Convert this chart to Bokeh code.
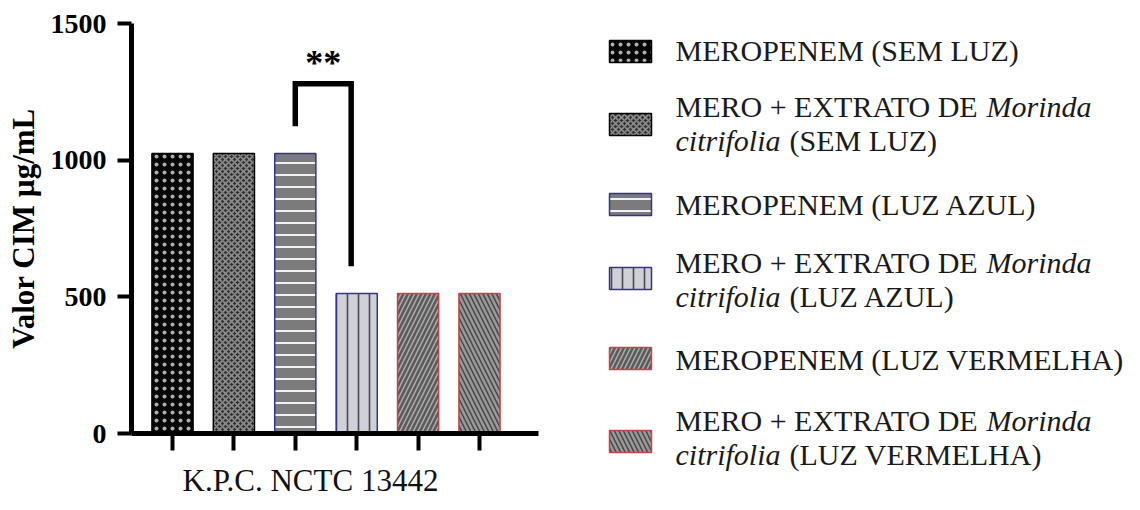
from bokeh.plotting import figure
from bokeh.models import Range1d, FixedTicker, ColumnDataSource
from bokeh.core.properties import value
from bokeh.embed import file_html
from bokeh.resources import INLINE

# ---------------- data ----------------
groups = [
    "MEROPENEM (SEM LUZ)",
    "MERO + EXTRATO DE Morinda citrifolia (SEM LUZ)",
    "MEROPENEM (LUZ AZUL)",
    "MERO + EXTRATO DE Morinda citrifolia (LUZ AZUL)",
    "MEROPENEM (LUZ VERMELHA)",
    "MERO + EXTRATO DE Morinda citrifolia (LUZ VERMELHA)",
]
positions = [1, 2, 3, 4, 5, 6]
mic_values = [1024, 1024, 1024, 512, 512, 512]
y_ticks = [0, 500, 1000, 1500]
y_max = 1500
x_title = "K.P.C. NCTC 13442"
y_title = "Valor CIM µg/mL"
sig_label = "**"
sig_pair = [3, 4]

# legend text split into upright / italic parts per line
legend_lines = [
    [["MEROPENEM (SEM LUZ)"]],
    [["MERO + EXTRATO DE", "Morinda"], ["citrifolia", "(SEM LUZ)"]],
    [["MEROPENEM (LUZ AZUL)"]],
    [["MERO + EXTRATO DE", "Morinda"], ["citrifolia", "(LUZ AZUL)"]],
    [["MEROPENEM (LUZ VERMELHA)"]],
    [["MERO + EXTRATO DE", "Morinda"], ["citrifolia", "(LUZ VERMELHA)"]],
]

# ---------------- styles ----------------
fill_colors = ["#050505", "#333333", "#7b7b7b", "#d0d0d8", "#5a5a5a", "#9a9a9a"]
line_colors = ["#000000", "#000000", "#34348a", "#34348a", "#c8404c", "#c8404c"]
hatch_patterns = ["dot", "diagonal_cross", "horizontal_line", "vertical_line",
                  "right_diagonal_line", "left_diagonal_line"]
hatch_colors = ["#b0b0b0", "#8c8c8c", "#ffffff", "#4a4a4a", "#aaaaaa", "#4a4a4a"]
hatch_scales = [8, 6, 12, 11, 9, 9]
hatch_weights = [0.7, 1.6, 1.8, 1.6, 1.6, 1.6]

SERIF = "Liberation Serif"
W, H = 1140, 510

# pixel layout of the plotting area (page px)
AX_LEFT, AX_RIGHT, AX_TOP, AX_BOTTOM = 131, 538, 23, 433
TICK1_PX, PX_PER_X = 172, 61.4
PX_PER_Y = (AX_BOTTOM - AX_TOP) / y_max


def dx(px):
    return 1 + (px - TICK1_PX) / PX_PER_X


def dy(py):
    return (AX_BOTTOM - py) / PX_PER_Y


p = figure(width=W, height=H,
           x_range=Range1d(dx(0), dx(W)), y_range=Range1d(dy(H), dy(0)),
           output_backend="svg", toolbar_location=None, min_border=0)
p.outline_line_color = None
p.xgrid.visible = False
p.ygrid.visible = False
p.background_fill_color = "white"
p.border_fill_color = "white"

src = ColumnDataSource(dict(
    x=positions, top=mic_values, fill=fill_colors, line=line_colors,
    hp=hatch_patterns, hc=hatch_colors, hs=hatch_scales, hw=hatch_weights,
))
p.vbar(x="x", top="top", bottom=0, width=0.67, source=src,
       fill_color="fill", line_color="line", line_width=1.5,
       hatch_pattern="hp", hatch_color="hc", hatch_scale="hs", hatch_weight="hw")

# significance bracket
a, b = sig_pair
off = 100
top_y = max(mic_values[a - 1], mic_values[b - 1]) + 256
bx = [a, a, b - 0.09, b - 0.09]
by = [mic_values[a - 1] + off, top_y, top_y, mic_values[b - 1] + off]
p.line(bx, by, line_width=5.5, line_color="black", line_join="miter")
p.text(x=[(a + b - 0.09) / 2], y=[top_y + 76], text=[sig_label],
       text_font=value(SERIF), text_font_style="bold", text_font_size="36px",
       text_align="center", text_baseline="middle", text_color="black")

# x axis (fixed at y = 0)
xa = p.xaxis[0]
xa.fixed_location = 0
xa.bounds = (dx(AX_LEFT), dx(AX_RIGHT))
xa.ticker = FixedTicker(ticks=positions)
xa.major_label_overrides = {i: "" for i in positions}
xa.major_tick_in = 0
xa.major_tick_out = 17
xa.major_tick_line_width = 4
xa.minor_tick_line_color = None
xa.axis_line_width = 5

# x title
p.text(x=[dx(310)], y=[dy(480)], text=[x_title],
       text_font=value(SERIF), text_font_size="31px", text_color="#111111",
       text_align="center", text_baseline="middle")

# y axis (fixed at left edge of axes area)
ya = p.yaxis[0]
ya.fixed_location = dx(AX_LEFT)
ya.bounds = (0, y_max)
ya.ticker = FixedTicker(ticks=y_ticks)
ya.major_label_text_font = SERIF
ya.major_label_text_font_style = "bold"
ya.major_label_text_font_size = "28px"
ya.major_label_text_color = "black"
ya.major_label_standoff = 11
ya.major_tick_in = 0
ya.major_tick_out = 14
ya.major_tick_line_width = 4
ya.minor_tick_line_color = None
ya.axis_line_width = 5
ya.axis_label = y_title
ya.axis_label_text_font = SERIF
ya.axis_label_text_font_style = "bold"
ya.axis_label_text_font_size = "31px"
ya.axis_label_text_color = "black"
ya.axis_label_standoff = 7

# ---------------- legend (drawn with glyphs) ----------------
sw_centers = [51, 124, 204, 278, 358, 441]
line_centers = [[50], [106, 140], [204], [262, 296], [359], [420, 454]]
sw_src = ColumnDataSource(dict(
    left=[dx(609)] * 6, right=[dx(651)] * 6,
    top=[dy(c - 11) for c in sw_centers], bottom=[dy(c + 11) for c in sw_centers],
    fill=fill_colors, line=line_colors,
    hp=hatch_patterns, hc=hatch_colors, hs=hatch_scales, hw=hatch_weights,
))
p.quad(left="left", right="right", top="top", bottom="bottom", source=sw_src,
       fill_color="fill", line_color="line", line_width=1.5,
       hatch_pattern="hp", hatch_color="hc", hatch_scale="hs", hatch_weight="hw")

TX0, ITAL_X, PAR_X = 675, 986, 789
kw = dict(text_font=value(SERIF), text_font_size="30px", text_color="#1a1a1a",
          text_align="left", text_baseline="middle")
for parts_list, ys in zip(legend_lines, line_centers):
    for li, (parts, yy) in enumerate(zip(parts_list, ys)):
        if len(parts) == 1:
            p.text(x=[dx(TX0)], y=[dy(yy)], text=[parts[0]], text_font_style="normal", **kw)
        elif li == 0:
            p.text(x=[dx(TX0)], y=[dy(yy)], text=[parts[0]], text_font_style="normal", **kw)
            p.text(x=[dx(ITAL_X)], y=[dy(yy)], text=[parts[1]], text_font_style="italic", **kw)
        else:
            p.text(x=[dx(TX0)], y=[dy(yy)], text=[parts[0]], text_font_style="italic", **kw)
            p.text(x=[dx(PAR_X)], y=[dy(yy)], text=[parts[1]], text_font_style="normal", **kw)

open("out.html", "w").write(file_html(p, INLINE))
